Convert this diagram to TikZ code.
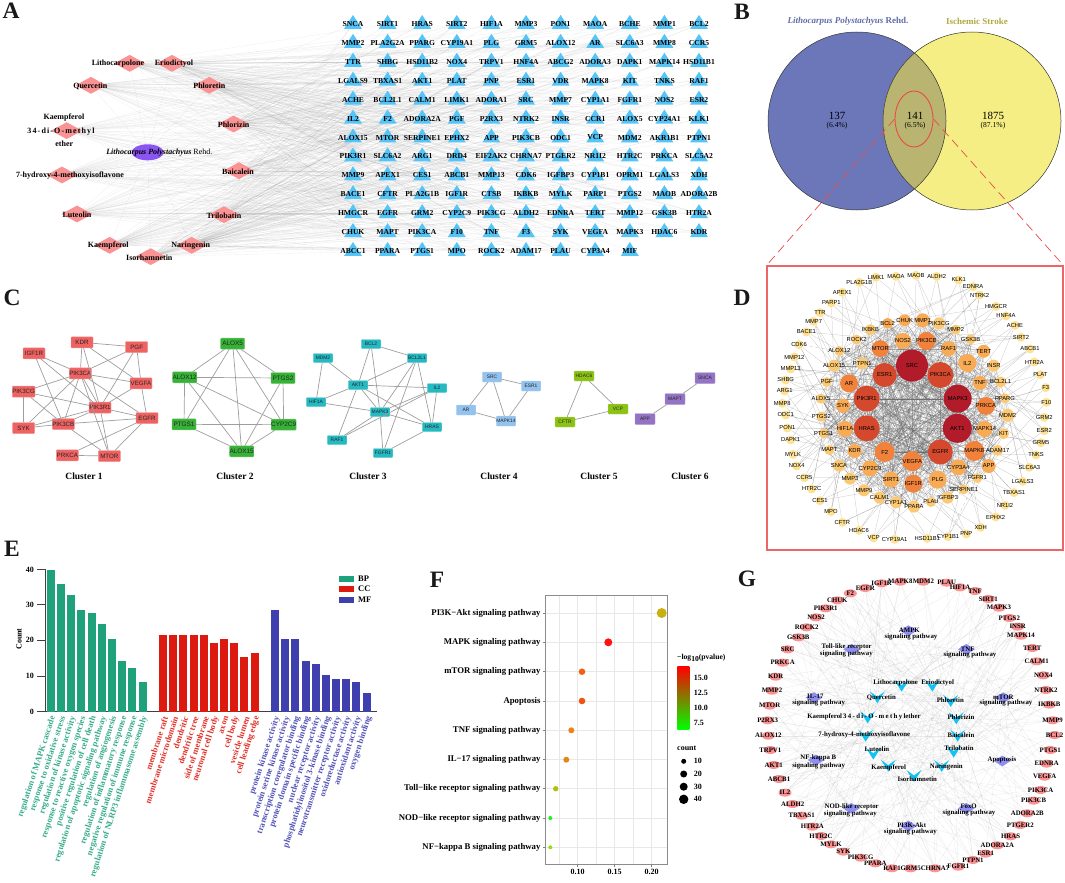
\documentclass[tikz,border=0pt]{standalone}
\usepackage{fontspec}
\setmainfont{Liberation Serif}
\newfontfamily\arialf{Liberation Sans}
\usetikzlibrary{shapes.geometric,backgrounds}
\definecolor{tricol}{HTML}{55C4F7}
\definecolor{pinkcol}{HTML}{FA9393}
\definecolor{hubcol}{HTML}{8A55F2}
\definecolor{vennL}{HTML}{6C77B9}
\definecolor{vennR}{HTML}{F5EE84}
\definecolor{vennM}{HTML}{B9B46F}
\definecolor{redline}{HTML}{EA4A4A}
\definecolor{clA}{HTML}{EE6262}
\definecolor{clB}{HTML}{36B236}
\definecolor{clC}{HTML}{25B9C2}
\definecolor{clD}{HTML}{93C2EE}
\definecolor{clE}{HTML}{8CC214}
\definecolor{clF}{HTML}{9373C4}
\definecolor{dA}{HTML}{B21C2A}
\definecolor{dB}{HTML}{D4492D}
\definecolor{dC}{HTML}{F0823C}
\definecolor{dD}{HTML}{F8AA54}
\definecolor{dE}{HTML}{FBC973}
\definecolor{dF}{HTML}{FDE294}
\definecolor{bpcol}{HTML}{1FA27C}
\definecolor{cccol}{HTML}{DD1A10}
\definecolor{mfcol}{HTML}{3F3FAE}
\definecolor{pathcol}{HTML}{8F8FF2}
\definecolor{vcol}{HTML}{12C3F2}
\tikzset{
    letter/.style={font=\fontsize{23.5}{24}\bfseries\selectfont,text=black!90},
    tgt/.style={isosceles triangle,isosceles triangle apex angle=70,isosceles triangle stretches,shape border rotate=90,fill=tricol,minimum width=18,minimum height=14,inner sep=0},
    tgtlab/.style={font=\fontsize{7.6}{8}\bfseries\selectfont,inner sep=0},
    cpd/.style={diamond,fill=pinkcol,minimum width=31,minimum height=17,inner sep=0},
    cpdlab/.style={font=\fontsize{8}{9}\bfseries\selectfont,inner sep=0},
    edgeA/.style={black!55,opacity=.12,line width=.3},
    vennlab/.style={font=\fontsize{11}{12}\selectfont,inner sep=0},
    vennpct/.style={font=\fontsize{7.6}{8}\selectfont,inner sep=0},
    venntitle/.style={font=\fontsize{9}{10}\bfseries\selectfont,inner sep=0},
    clbox/.style={rectangle,rounded corners=.8,inner sep=0,draw=#1!70,line width=.4,fill=#1,text=black!85,font=\arialf\fontsize{6.2}{7}\selectfont},
    cledge/.style={black!38,line width=.7},
    cltitle/.style={font=\fontsize{9.5}{10}\bfseries\selectfont,inner sep=0},
    dnode/.style={circle,inner sep=0,minimum size=#1},
    dlab/.style={font=\arialf\fontsize{5.8}{6}\selectfont,inner sep=0},
    edgeD/.style={black!60,opacity=.55,line width=.25},
    gnode/.style={ellipse,fill=pinkcol,minimum width=13,minimum height=8,inner sep=0},
    glab/.style={font=\fontsize{6.8}{7}\bfseries\selectfont,inner sep=0},
    pathnode/.style={diamond,fill=pathcol,minimum width=17,minimum height=11,inner sep=0},
    vnode/.style={rectangle,minimum width=15,minimum height=12,inner sep=0,path picture={
        \fill[vcol] (path picture bounding box.north west) -- ([yshift=-5.5pt]path picture bounding box.north) -- (path picture bounding box.north east) -- (path picture bounding box.south) -- cycle;}},
    edgeG/.style={black!50,opacity=.17,line width=.3},
    ticklab/.style={font=\fontsize{8}{9}\bfseries\selectfont,inner sep=0},
    golab/.style={font=\fontsize{8.6}{9}\bfseries\selectfont,inner sep=0,rotate=72,anchor=east},
    pathlab/.style={font=\fontsize{8.75}{9}\bfseries\selectfont,inner sep=0,anchor=east}
}
\begin{document}
\begin{tikzpicture}[x=1pt,y=-1pt]
        \useasboundingbox (0,0) rectangle (1065,883);
        \pgfmathsetseed{11}
        \node[letter] (panelA) at (11,11) {A};
        \node[letter] (panelB) at (742,12) {B};
        \node[letter] (panelC) at (12,298) {C};
        \node[letter] (panelD) at (742,298) {D};
        \node[letter] (panelE) at (12,549) {E};
        \node[letter] (panelF) at (437,580) {F};
        \node[letter] (panelG) at (747,579) {G};

        \foreach \row [count=\r] in {
            {SNCA,SIRT1,HRAS,SIRT2,HIF1A,MMP3,PON1,MAOA,BCHE,MMP1,BCL2},
            {MMP2,PLA2G2A,PPARG,CYP19A1,PLG,GRM5,ALOX12,AR,SLC6A3,MMP8,CCR5},
            {TTR,SHBG,HSD11B2,NOX4,TRPV1,HNF4A,ABCG2,ADORA3,DAPK1,MAPK14,HSD11B1},
            {LGALS9,TBXAS1,AKT1,PLAT,PNP,ESR1,VDR,MAPK8,KIT,TNKS,RAF1},
            {ACHE,BCL2L1,CALM1,LIMK1,ADORA1,SRC,MMP7,CYP1A1,FGFR1,NOS2,ESR2},
            {IL2,F2,ADORA2A,PGF,P2RX3,NTRK2,INSR,CCR1,ALOX5,CYP24A1,KLK1},
            {ALOX15,MTOR,SERPINE1,EPHX2,APP,PIK3CB,ODC1,VCP,MDM2,AKR1B1,PTPN1},
            {PIK3R1,SLC6A2,ARG1,DRD4,EIF2AK2,CHRNA7,PTGER2,NR1I2,HTR2C,PRKCA,SLC5A2},
            {MMP9,APEX1,CES1,ABCB1,MMP13,CDK6,IGFBP3,CYP1B1,OPRM1,LGALS3,XDH},
            {BACE1,CFTR,PLA2G1B,IGF1R,CTSB,IKBKB,MYLK,PARP1,PTGS2,MAOB,ADORA2B},
            {HMGCR,EGFR,GRM2,CYP2C9,PIK3CG,ALDH2,EDNRA,TERT,MMP12,GSK3B,HTR2A},
            {CHUK,MAPT,PIK3CA,F10,TNF,F3,SYK,VEGFA,MAPK3,HDAC6,KDR},
            {ABCC1,PPARA,PTGS1,MPO,ROCK2,ADAM17,PLAU,CYP3A4,MIF}} {
            \foreach \t [count=\c] in \row {
                \node[tgt,label={[tgtlab]center:\t}] (t\r-\c) at ({318.4+34.6*\c},{5.1+18.92*\r}) {};
            }
        }
        \begin{scope}[x=0.3333pt,y=-0.3333pt]
            \node[ellipse,fill=hubcol,minimum width=32,minimum height=16,inner sep=0] (hub) at (443,457) {};
            \node[cpdlab,font=\fontsize{8}{9}\selectfont] (hublab) at (478,458) {\textit{\textbf{Lithocarpus Polystachyus}} Rehd.};
            \foreach \x/\y/\tx/\t [count=\n] in {
                389/190/354/Lithocarpolone,516/190/522/Eriodictyol,273/256/271/Quercetin,628/256/628/Phloretin,
                200/392/183/{\addfontfeature{LetterSpace=14}34-di-O-methyl},701/372/701/Phlorizin,186/525/210/7-hydroxy-4-methoxyisoflavone,
                717/512/714/Baicalein,231/642/231/Luteolin,672/644/672/Trilobatin,329/736/325/Kaempferol,575/736/572/Naringenin,452/770/448/Isorhamnetin} {
                \node[cpd] (c\n) at (\x,\y) {};
                \node[cpdlab] (cl\n) at (\tx,\y+2) {\t};
            }
            \node[cpdlab] (clk) at (192,354) {Kaempferol};
            \node[cpdlab] (cle) at (193,432) {ether};
        \end{scope}
        \begin{scope}[on background layer]
            \foreach \n in {1,...,13} {
                \draw[edgeA] (hub) -- (c\n);
                \foreach \r in {1,...,13} {
                    \foreach \c in {1,...,9} {
                        \pgfmathrandominteger{\rr}{1}{100}
                        \ifnum\rr<32 \draw[edgeA] (c\n) -- (t\r-\c); \fi
                    }
                }
                \foreach \r in {1,...,12} {
                    \foreach \c in {10,11} {
                        \pgfmathrandominteger{\rr}{1}{100}
                        \ifnum\rr<32 \draw[edgeA] (c\n) -- (t\r-\c); \fi
                    }
                }
            }
        \end{scope}

        \begin{scope}
            \fill[vennL] (857,121) circle (89);
            \fill[vennR] (972,121) circle (89);
            \clip (857,121) circle (89);
            \fill[vennM] (972,121) circle (89);
        \end{scope}
        \draw[black!80,line width=.5] (857,121) circle (89);
        \draw[black!80,line width=.5] (972,121) circle (89);
        \node[ellipse,draw=redline,line width=.9,minimum width=38,minimum height=56,inner sep=0] (core) at (914,119) {};
        \node[draw=redline!85,line width=1.1,minimum width=296,minimum height=284,inner sep=0] (dbox) at (915,408) {};
        \draw[redline,line width=.7,dash pattern=on 9 off 5] (core.west) -- (dbox.north west);
        \draw[redline,line width=.7,dash pattern=on 9 off 5] (core.east) -- (dbox.north east);
        \node[venntitle,text=vennL!90!black] (titleL) at (848,21) {\textit{Lithocarpus Polystachyus} Rehd.};
        \node[venntitle,text=vennR!55!olive!90!black] (titleR) at (977,21) {Ischemic Stroke};
        \node[vennlab] (nL) at (837,116) {137};
        \node[vennpct] (pL) at (837,126) {(6.4\%)};
        \node[vennlab] (nM) at (915,116) {141};
        \node[vennpct] (pM) at (915,126) {(6.5\%)};
        \node[vennlab] (nR) at (993,116) {1875};
        \node[vennpct] (pR) at (993,126) {(87.1\%)};

        \foreach \x/\y/\t in {246/187/KDR,410/201/PGF,102/220/IGF1R,241/280/PIK3CA,423/310/VEGFA,71/335/PIK3CG,300/383/PIK3R1,441/414/EGFR,71/444/SYK,190/432/PIK3CB,202/526/PRKCA,328/528/MTOR}
            \node[clbox=clA,minimum width=22,minimum height=11] (\t) at (\x/3,280+\y/3) {\t};
        \foreach \a/\b in {KDR/PGF,KDR/PIK3CA,KDR/VEGFA,KDR/PIK3R1,PGF/PIK3CA,PGF/VEGFA,PGF/PIK3R1,IGF1R/PIK3CA,IGF1R/PIK3R1,IGF1R/PIK3CB,PIK3CA/VEGFA,PIK3CA/PIK3CG,PIK3CA/PIK3R1,PIK3CA/EGFR,PIK3CA/SYK,PIK3CA/PIK3CB,PIK3CA/MTOR,VEGFA/PIK3R1,VEGFA/EGFR,PIK3CG/PIK3R1,PIK3CG/SYK,PIK3CG/PIK3CB,PIK3R1/EGFR,PIK3R1/SYK,PIK3R1/PIK3CB,PIK3R1/MTOR,EGFR/PIK3CB,EGFR/PRKCA,EGFR/MTOR,SYK/PIK3CB,PIK3CB/MTOR,PRKCA/MTOR}
            \draw[cledge] (\a) -- (\b);
        \foreach \x/\y/\t in {698/191/ALOX5,554/292/ALOX12,849/294/PTGS2,552/433/PTGS1,851/434/CYP2C9,725/514/ALOX15}
            \node[clbox=clB,minimum width=24,minimum height=11,font=\arialf\fontsize{6.4}{7}\selectfont] (\t) at (\x/3,280+\y/3) {\t};
        \foreach \a/\b in {ALOX5/ALOX12,ALOX5/PTGS2,ALOX5/PTGS1,ALOX5/CYP2C9,ALOX5/ALOX15,ALOX12/PTGS2,ALOX12/PTGS1,ALOX12/CYP2C9,ALOX12/ALOX15,PTGS2/CYP2C9,PTGS2/ALOX15,PTGS1/CYP2C9,PTGS1/ALOX15,CYP2C9/ALOX15}
            \draw[cledge] (\a) -- (\b);
        \foreach \x/\y/\t in {371/344/BCL2,323/358/MDM2,358/385/AKT1,316/402/HIF1A,380/412/MAPK3,337/440/RAF1,383/453/FGFR1,417/358/BCL2L1,437/388/IL2,432/427/HRAS}
            \node[clbox=clC,minimum width=19.5,minimum height=9,font=\arialf\fontsize{4.9}{6}\selectfont] (\t) at (\x,\y) {\t};
        \foreach \a/\b in {BCL2/BCL2L1,BCL2/AKT1,BCL2/MAPK3,MDM2/AKT1,MDM2/HIF1A,AKT1/BCL2L1,AKT1/IL2,AKT1/HIF1A,AKT1/MAPK3,AKT1/RAF1,AKT1/HRAS,HIF1A/MAPK3,MAPK3/BCL2L1,MAPK3/IL2,MAPK3/HRAS,MAPK3/RAF1,MAPK3/FGFR1,RAF1/IL2,BCL2L1/HRAS,BCL2L1/FGFR1,IL2/HRAS,FGFR1/HRAS}
            \draw[cledge] (\a) -- (\b);
        \foreach \x/\y/\t in {492/377/SRC,531/386/ESR1,466/410/AR,506/421/MAPK14}
            \node[clbox=clD,minimum width=19.5,minimum height=10,font=\arialf\fontsize{4.9}{6}\selectfont] (\t) at (\x,\y) {\t};
        \foreach \a/\b in {SRC/ESR1,SRC/AR,SRC/MAPK14,ESR1/MAPK14,AR/MAPK14}
            \draw[cledge] (\a) -- (\b);
        \foreach \x/\y/\t in {584/376/HDAC6,618/409/VCP,565/422/CFTR}
            \node[clbox=clE,minimum width=20,minimum height=10,font=\arialf\fontsize{4.9}{6}\selectfont] (\t) at (\x,\y) {\t};
        \foreach \a/\b in {HDAC6/VCP,HDAC6/CFTR,VCP/CFTR}
            \draw[cledge] (\a) -- (\b);
        \foreach \x/\y/\t in {705/378/SNCA,675/399/MAPT,645/419/APP}
            \node[clbox=clF,minimum width=20,minimum height=11,font=\arialf\fontsize{4.9}{6}\selectfont] (\t) at (\x,\y) {\t};
        \foreach \a/\b in {SNCA/MAPT,MAPT/APP}
            \draw[cledge] (\a) -- (\b);
        \foreach \x/\n in {84/1,235/2,368/3,499/4,599/5,690/6}
            \node[cltitle] (title\n) at (\x,476) {Cluster \n};

        \begin{scope}[shift={(765,260)},x=0.3333pt,y=-0.3333pt]
            \foreach \x/\y/\r/\c/\t [count=\n] in {
                441/317/32/dA/SRC,526/345/26/dB/PIK3CA,578/416/28/dA/MAPK3,577/505/29/dA/AKT1,526/576/25/dB/EGFR,442/604/20/dC/VEGFA,359/576/20/dC/F2,305/505/26/dB/HRAS,305/416/26/dB/PIK3R1,359/345/24/dB/ESR1,346/266/17/dC/MTOR,
                414/243/16/dD/NOS2,484/243/18/dC/PIK3CB,551/266/15/dD/RAF1,607/309/18/dD/IL2,645/369/14/dD/TNF,663/438/18/dC/PRKCA,659/507/16/dD/MAPK14,628/573/20/dC/MAPK8,671/618/14/dD/APP,580/622/16/dD/CYP3A4,518/659/18/dD/PLG,445/671/18/dC/IGF1R,378/659/16/dD/SIRT1,315/625/16/dD/CYP2C9,269/573/14/dD/KDR,240/507/16/dD/HIF1A,234/437/14/dD/SYK,252/370/18/dC/AR,292/310/12/dE/PTPN1,
                419/181/12/dD/CHUK,473/181/14/dD/MMP1,522/190/12/dE/PIK3CG,368/190/11/dD/BCL2,316/209/11/dE/IKBKB,656/274/13/dD/TERT,686/317/12/dE/INSR,707/366/11/dE/BCL2L1,720/415/10/dE/PPARG,728/466/13/dE/MDM2,716/521/11/dE/KIT,698/571/11/dE/ADAM17,
                637/654/10/dE/FGFR1,596/688/10/dE/SERPINE1,548/713/12/dE/IGFBP3,498/726/10/dE/PLAU,447/740/12/dE/PPARA,393/727/12/dE/CYP1A1,344/713/12/dE/CALM1,297/691/12/dE/MMP9,255/656/12/dE/MMP3,222/617/12/dE/SNCA,193/570/10/dE/MAPT,176/520/10/dE/PTGS1,169/470/10/dE/PTGS2,168/416/10/dE/ALOX5,185/366/10/dE/PGF,207/317/12/dE/ALOX15,223/273/10/dE/ALOX12,275/239/10/dE/ROCK2,572/209/10/dE/MMP2,617/238/10/dE/GSK3B,
                333/52/9/dF/LIMK1,393/49/9/dF/MAOA,453/46/9/dF/MAOB,515/49/9/dF/ALDH2,581/60/9/dF/KLK1,624/80/9/dF/EDNRA,644/105/9/dF/NTRK2,693/139/9/dF/HMGCR,723/168/9/dF/HNF4A,750/196/9/dF/ACHE,768/232/9/dF/SIRT2,795/267/9/dF/ABCB1,808/306/9/dF/HTR2A,826/344/9/dF/PLAT,842/383/9/dF/F3,844/427/9/dF/F10,838/472/9/dF/GRM2,838/512/9/dF/ESR2,828/548/9/dF/GRM5,813/585/9/dF/TNKS,793/622/9/dF/SLC6A3,773/664/9/dF/LGALS3,747/698/9/dF/TBXAS1,720/736/9/dF/NR1I2,692/771/9/dF/EPHX2,647/802/9/dF/XDH,604/822/9/dF/PNP,549/830/9/dF/CYP1B1,487/835/9/dF/HSD11B1,389/838/9/dF/CYP19A1,326/834/9/dF/VCP,282/811/9/dF/HDAC6,232/787/9/dF/CFTR,198/755/9/dF/MPO,165/722/9/dF/CES1,140/687/9/dF/HTR2C,118/653/9/dF/CCR5,95/618/9/dF/NOX4,84/583/9/dF/MYLK,77/540/9/dF/DAPK1,67/504/9/dF/PON1,62/465/9/dF/ODC1,52/430/9/dF/MMP8,59/393/9/dF/ARG1,62/360/9/dF/SHBG,77/327/9/dF/MMP13,88/291/9/dF/MMP12,102/254/9/dF/CDK6,124/216/9/dF/BACE1,146/184/9/dF/MMP7,165/158/9/dF/TTR,199/129/9/dF/PARP1,232/97/9/dF/APEX1,283/67/9/dF/PLA2G1B} {
                \node[dnode=\r,fill=\c,label={[dlab]center:\t}] (d\n) at (\x,\y) {};
            }
        \end{scope}
        \begin{scope}[on background layer]
            \foreach \i in {1,...,11} {
                \foreach \j in {1,...,62} {
                    \pgfmathrandominteger{\rr}{1}{100}
                    \ifnum\rr<45 \draw[edgeD] (d\i) -- (d\j); \fi
                }
            }
            \foreach \i in {12,...,62} {
                \foreach \k in {1,...,5} {
                    \pgfmathrandominteger{\jj}{12}{62}
                    \draw[edgeD,opacity=.45] (d\i) -- (d\jj);
                }
            }
            \foreach \i in {63,...,116} {
                \foreach \k in {1,2,3} {
                    \pgfmathrandominteger{\jj}{1}{62}
                    \draw[edgeD,opacity=.4] (d\i) -- (d\jj);
                }
            }
            \foreach \a/\b in {69/62,110/59,90/40}
                \draw[edgeD,dashed] (d\a) -- (d\b);
        \end{scope}

        \foreach \y/\t in {569.7/40,604.7/30,640/20,676/10,711.5/0} {
            \node[ticklab,anchor=east] (tick\t) at (34,\y) {\t};
            \draw[black!75,line width=.8] (37,\y) -- (45.7,\y);
        }
        \draw[black!75,line width=.8] (45.7,569.7) -- (45.7,711.5) -- (377,711.5);
        \node[ticklab,rotate=90] (countlab) at (19,639) {Count};
        \foreach \x/\v in {50.7/40,61/35.9,71.3/32.8,81.3/28.7,91.7/27.7,102/24.6,112/20.4,122.3/14.3,132.3/12.2,142.7/8.2}
            \fill[bpcol] (\x-4,711.5) rectangle (\x+4,{711.5-3.54*\v});
        \foreach \x/\v in {163/21.5,173/21.5,183.3/21.5,193.7/21.5,203.7/21.5,214/19.4,224/20.4,234.3/19.4,244.3/15.4,254.7/16.4}
            \fill[cccol] (\x-4,711.5) rectangle (\x+4,{711.5-3.54*\v});
        \foreach \x/\v in {275/28.7,285.3/20.4,295.3/20.4,305.7/14.3,316/13.3,326/10.2,336/9.1,346.3/9.1,356.3/8.2,366.7/5.1}
            \fill[mfcol] (\x-4,711.5) rectangle (\x+4,{711.5-3.54*\v});
        \foreach \t [count=\i from 0] in {regulation of MAPK cascade,response to oxidative stress,regulation of kinase activity,response to reactive oxygen species,positive regulation of cell death,regulation of apoptotic signaling pathway,regulation of angiogenesis,regulation of inflammatory response,negative regulation of immune response,regulation of NLRP3 inflammasome assembly}
            \node[golab,text=bpcol!90!white] (bp\i) at ({53.2+10.2*\i},716.5) {\t};
        \foreach \t [count=\i from 0] in {membrane raft,membrane microdomain,dendritic,dendritic tree,side of membrane,neuronal cell body,axon,cell body,vesicle lumen,cell leading edge}
            \node[golab,text=cccol!90!white] (cc\i) at ({165.5+10.2*\i},716.5) {\t};
        \foreach \t [count=\i from 0] in {protein kinase activity,protein serine kinase activity,transcription coregulator binding,protein domain specific binding,nuclear receptor activity,phosphatidylinositol 3-kinase binding,neurotransmitter receptor activity,oxidoreductase activity,antioxidant activity,oxygen binding}
            \node[golab,text=mfcol!90!white] (mf\i) at ({277.5+10.2*\i},716.5) {\t};
        \foreach \y/\c/\t in {578.7/bpcol/BP,589/cccol/CC,600/mfcol/MF} {
            \fill[\c] (339,\y-2.8) rectangle (354,\y+2.8);
            \node[ticklab,anchor=west,font=\fontsize{8.5}{9}\bfseries\selectfont] (leg\t) at (358,\y) {\t};
        }

        \foreach \x in {559.2,577.7,596.2,614.7,633.2,651.7}
            \draw[black!9,line width=.5] (\x,595.3) -- (\x,864);
        \foreach \y/\x/\r/\c/\t [count=\n] in {
            613/661.7/5/C8B010/PI3K−Akt signaling pathway,
            642.3/608.3/4/FF1212/MAPK signaling pathway,
            671.7/582/3.3/EE6212/mTOR signaling pathway,
            701/582/3.3/F05212/Apoptosis,
            730.3/571.3/3/EE8212/TNF signaling pathway,
            759.7/566.3/3/E08A12/IL−17 signaling pathway,
            788.7/555.7/2.7/B0C012/Toll−like receptor signaling pathway,
            818/550.3/2/20F020/NOD−like receptor signaling pathway,
            847.3/550.3/2/90E012/NF−kappa B signaling pathway} {
            \definecolor{dotcol}{HTML}{\c}
            \draw[black!9,line width=.5] (545,\y) -- (667.3,\y);
            \draw[black!50,line width=.5] (542.5,\y) -- (545,\y);
            \fill[dotcol] (\x,\y) circle (\r);
            \node[pathlab] (path\n) at (540.7,\y) {\t};
        }
        \draw[black!45,line width=.9] (545,595.3) rectangle (667.3,864);
        \foreach \x/\t in {577.7/0.10,614.7/0.15,651.7/0.20} {
            \draw[black!50,line width=.5] (\x,864) -- (\x,866.5);
            \node[ticklab] (fx\t) at (\x,871.7) {\t};
        }
        \node[ticklab,anchor=west,font=\fontsize{7.6}{8}\bfseries\selectfont] (fcb) at (677,657.7) {−log\raisebox{-1.5pt}{10}(pvalue)};
        \shade[top color=red,middle color=orange!80!olive,bottom color=green] (677.3,666.7) rectangle (689.3,729.3);
        \foreach \y/\t in {677.7/15.0,692.7/12.5,708/10.0,723/7.5}
            \node[ticklab,anchor=west] (cb\t) at (693.7,\y) {\t};
        \node[ticklab,anchor=west] (fcount) at (677,748.3) {count};
        \foreach \y/\r/\t in {761.3/2.5/10,774/3.5/20,786.7/4/30,799.3/4.7/40} {
            \fill[black] (683.7,\y) circle (\r);
            \node[ticklab,anchor=west] (sz\t) at (693.7,\y) {\t};
        }

        \begin{scope}[shift={(745,560)},x=0.3333pt,y=-0.3333pt]
            \foreach \x/\y/\t [count=\n] in {
                410/70/IGF1R,466/65/MAPK8,535/65/MDM2,605/68/PLAU,645/82/HIF1A,690/93/TNF,730/117/SIRT1,762/143/MAPK3,793/174/PTGS2,818/200/INSR,828/227/MAPK14,862/264/TERT,875/304/CALM1,895/346/NOX4,903/390/NTRK2,913/434/IKBKB,923/481/MMP9,929/525/BCL2,916/570/PTGS1,905/611/EDNRA,899/650/VEGFA,887/690/PIK3CA,866/722/PIK3CB,847/760/ADORA2B,826/795/PTGER2,797/829/HRAS,757/856/ADORA2A,722/881/ESR1,684/900/PTPN1,640/920/FGFR1,570/925/CHRNA7,497/925/GRM5,441/925/RAF1,391/910/PPARA,347/893/PIK3CG,295/875/SYK,258/853/MYLK,228/828/HTR2C,202/800/HTR2A,170/767/TBXAS1,143/732/ALDH2,120/698/IL2,102/657/ABCB1,86/615/AKT1,76/570/TRPV1,70/527/ALOX12,68/481/P2RX3,74/437/MTOR,81/392/MMP2,92/350/KDR,113/308/PRKCA,128/268/SRC,160/232/GSK3B,185/202/ROCK2,213/172/NOS2,242/145/PIK3R1,277/121/CHUK,316/100/F2,361/84/EGFR} {
                \node[gnode,label={[glab]center:\t}] (g\n) at (\x,\y) {};
            }
            \foreach \x/\y/\t [count=\n] in {490/212/AMPK,664/268/TNF,320/268/Toll,775/413/mTOR,207/413/IL,772/603/Apoptosis,213/600/NF,319/745/NOD,664/745/FoxO,490/798/PI3K} {
                \node[pathnode] (p\n) at (\x,\y) {};
            }
            \foreach \x/\y/\t [count=\n] in {
                493/211/AMPK,498/230/signaling pathway,668/267/TNF,675/285/signaling pathway,305/260/Toll-like receptor,304/283/signaling pathway,775/412/mTOR,783/430/signaling pathway,211/409/IL-17,221/428/signaling pathway,771/601/Apoptosis,220/593/NF-kappa B,221/617/signaling pathway,320/742/NOD-like receptor,316/763/signaling pathway,671/738/FoxO,672/758/signaling pathway,500/795/PI3K-Akt,496/816/signaling pathway} {
                \node[glab] (pl\n) at (\x,\y) {\t};
            }
            \foreach \x/\y/\tx/\ty/\t [count=\n] in {
                470/377/452/370/Lithocarpolone,562/377/578/369/Eriodictyol,397/412/409/414/Quercetin,617/423/616/420/Phloretin,368/472/357/470/{Kaempferol\,{\addfontfeature{LetterSpace=20}34-di-O-methyl}ether},634/475/648/471/Phlorizin,362/527/358/525/7-hydroxy-4-methoxyisoflavone,638/527/648/525/Baicalein,385/581/396/568/Luteolin,626/575/642/566/Trilobatin,430/617/431/623/Kaempferol,590/618/604/622/Naringenin,507/648/517/659/Isorhamnetin} {
                \node[vnode] (v\n) at (\x,\y) {};
                \node[glab] (vl\n) at (\tx,\ty) {\t};
            }
        \end{scope}
        \begin{scope}[on background layer]
            \foreach \n in {1,...,13} {
                \foreach \k in {1,...,59} {
                    \pgfmathrandominteger{\rr}{1}{100}
                    \ifnum\rr<28 \draw[edgeG] (v\n) -- (g\k); \fi
                }
            }
            \foreach \n in {1,...,10} {
                \foreach \k in {1,...,59} {
                    \pgfmathrandominteger{\rr}{1}{100}
                    \ifnum\rr<22 \draw[edgeG] (p\n) -- (g\k); \fi
                }
            }
        \end{scope}
    \end{tikzpicture}
\end{document}
